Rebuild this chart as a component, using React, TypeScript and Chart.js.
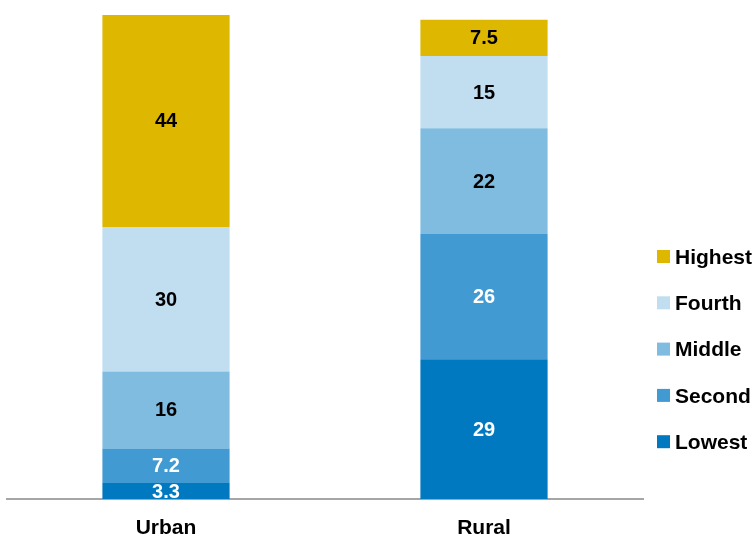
import React, { useEffect, useRef } from "react";
import { Chart, registerables } from "chart.js";

Chart.register(...registerables);

const categories = ["Urban", "Rural"];
const seriesNames = ["Lowest", "Second", "Middle", "Fourth", "Highest"];
const lowest = [3.3, 29];
const second = [7.2, 26];
const middle = [16, 22];
const fourth = [30, 15];
const highest = [44, 7.5];
const colors = ["#0079C1", "#419AD2", "#80BCE0", "#C0DEF0", "#DDB700"];
const labelColors = ["#FFFFFF", "#FFFFFF", "#000000", "#000000", "#000000"];

const FONT = "'Liberation Sans', Arial, sans-serif";

const valueLabels = {
  id: "valueLabels",
  afterDatasetsDraw(chart: any) {
    const ctx = chart.ctx;
    ctx.save();
    ctx.font = `bold 20px ${FONT}`;
    ctx.textAlign = "center";
    ctx.textBaseline = "middle";
    chart.data.datasets.forEach((ds: any, i: number) => {
      const meta = chart.getDatasetMeta(i);
      meta.data.forEach((bar: any, j: number) => {
        const v = ds.data[j];
        const y = (bar.y + bar.base) / 2;
        ctx.fillStyle = labelColors[i];
        ctx.fillText(String(v), bar.x, y + 1);
      });
    });
    ctx.restore();
  },
};

const customLegend = {
  id: "customLegend",
  afterDraw(chart: any) {
    const ctx = chart.ctx;
    ctx.save();
    ctx.font = `bold 21px ${FONT}`;
    ctx.textAlign = "left";
    ctx.textBaseline = "middle";
    const n = chart.data.datasets.length;
    const top = 257;
    const step = 46.3;
    for (let k = 0; k < n; k++) {
      const i = n - 1 - k;
      const ds = chart.data.datasets[i];
      const y = top + k * step;
      ctx.fillStyle = ds.backgroundColor;
      ctx.fillRect(657, y - 7, 13, 13);
      ctx.fillStyle = "#000000";
      ctx.fillText(ds.label, 675, y + 1);
    }
    ctx.restore();
  },
};

export default function App() {
  const ref = useRef<HTMLCanvasElement>(null);
  useEffect(() => {
    if (!ref.current) return;
    const seriesData = [lowest, second, middle, fourth, highest];
    const chart = new Chart(ref.current, {
      type: "bar",
      data: {
        labels: categories,
        datasets: seriesNames.map((name, i) => ({
          label: name,
          data: seriesData[i],
          backgroundColor: colors[i],
          borderWidth: 0,
          barPercentage: 0.8,
          categoryPercentage: 0.5,
        })),
      },
      options: {
        animation: false,
        responsive: false,
        maintainAspectRatio: false,
        layout: { padding: { left: 7, right: 113, top: 15, bottom: 0 } },
        plugins: { legend: { display: false }, tooltip: { enabled: false } },
        scales: {
          x: {
            stacked: true,
            grid: { display: false, drawTicks: false },
            border: { display: true, color: "#A6A6A6", width: 2 },
            ticks: {
              color: "#000000",
              font: { family: FONT, size: 21, weight: "bold" },
              padding: 17,
            },
            afterFit(scale: any) {
              scale.height = 36;
            },
          },
          y: {
            stacked: true,
            display: false,
            min: 0,
            max: 100.5,
          },
        },
      },
      plugins: [valueLabels, customLegend],
    });
    return () => chart.destroy();
  }, []);
  return (
    <div style={{ position: "fixed", left: 0, top: 0, width: 756, height: 535, background: "#fff" }}>
      <canvas ref={ref} width={756} height={535} style={{ width: 756, height: 535 }} />
    </div>
  );
}
